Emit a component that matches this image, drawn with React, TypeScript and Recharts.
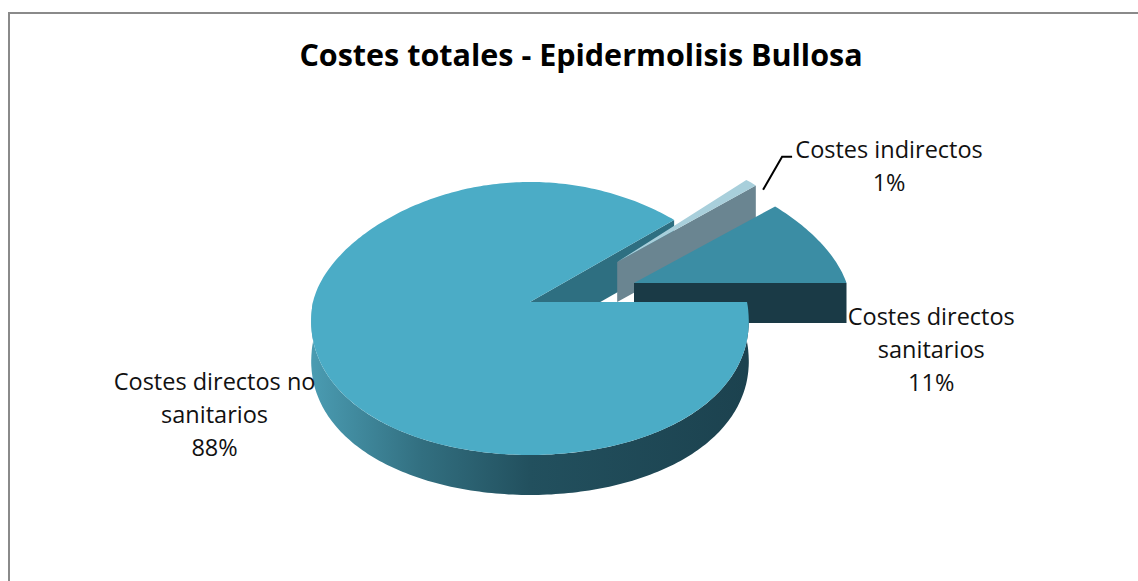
import React from 'react'
import { PieChart, Pie } from 'recharts'

// data
const categories = ['Costes directos sanitarios', 'Costes indirectos', 'Costes directos no sanitarios']
const shares = [11, 1, 88]
const explode = [0.52, 0.56, 0] // Excel point explosion, share of radius
const labelText = [['Costes directos', 'sanitarios'], ['Costes indirectos'], ['Costes directos no', 'sanitarios']]

const rows = categories.map((name, i) => ({ name, value: shares[i] }))

// 3-d look
const RY_TOP = 0.553 // back half of the disc, as share of the x radius
const RY_BOT = 0.705 // front half
const PERSP = 0.13 // x shrinks toward the back, grows toward the front
const EXPLODE_V = 0.9
const DEPTH = 40
const FONT = '"Open Sans", Lato, sans-serif'

const looks = [
  { top: '#3b8da4', cut: '#1a3a46' },
  { top: '#a8cfdb', cut: '#6a8591' },
  { top: '#4bacc6', cut: '#2e6f81' },
]

// label placement, relative to the rim point at the slice's mid angle
const labelPos = [
  { dx: 111, dy: 83 },
  { dx: 138, dy: -25 },
  { dx: -104, dy: 32 },
]

type Part = 'side' | 'top' | 'text'
const layers: { slice: number; part: Part }[][] = [
  [{ slice: 2, part: 'side' }],
  [{ slice: 1, part: 'side' }, { slice: 1, part: 'top' }],
  [{ slice: 0, part: 'side' }, { slice: 0, part: 'top' }],
  [{ slice: 2, part: 'top' }, { slice: 0, part: 'text' }, { slice: 1, part: 'text' }, { slice: 2, part: 'text' }],
]

const rad = (a: number) => (a * Math.PI) / 180

function geom(p: any) {
  const rx = p.outerRadius
  const e = explode[p.index]
  const eu = e * Math.cos(rad(p.midAngle))
  const ev = e * Math.sin(rad(p.midAngle)) * EXPLODE_V
  // disc coords (u, v) -> screen
  const proj = (u: number, v: number) => {
    const ry = v > 0 ? rx * RY_TOP : rx * RY_BOT
    return [p.cx + rx * u * (1 - PERSP * v), p.cy - ry * v]
  }
  const pt = (a: number, r = 1) => proj(eu + r * Math.cos(rad(a)), ev + r * Math.sin(rad(a)))
  const [ox, oy] = proj(eu, ev)
  const arc = (a0: number, a1: number, dy = 0) => {
    const out: number[][] = []
    const n = Math.max(2, Math.ceil(Math.abs(a1 - a0)))
    for (let k = 0; k <= n; k++) {
      const [x, y] = pt(a0 + ((a1 - a0) * k) / n)
      out.push([x, y + dy])
    }
    return out
  }
  return { rx, ox, oy, pt, arc }
}

const toPath = (pts: number[][]) => 'M' + pts.map(([x, y]) => `${x.toFixed(1)},${y.toFixed(1)}`).join('L') + 'Z'

function renderPart(p: any, part: Part) {
  const i = p.index
  const { rx, ox, oy, pt, arc } = geom(p)
  const a0 = p.startAngle
  const a1 = p.endAngle
  const look = looks[i]

  if (part === 'top') {
    return <path key="top" d={toPath([[ox, oy], ...arc(a0, a1)])} fill={look.top} />
  }

  if (part === 'side') {
    const faces: React.ReactNode[] = []
    const cutFace = (a: number, key: string) => {
      const [x, y] = pt(a)
      faces.push(
        <path key={key} d={toPath([[ox, oy], [x, y], [x, y + DEPTH], [ox, oy + DEPTH]])} fill={look.cut} />
      )
    }
    if (Math.cos(rad(a0)) > 0) cutFace(a0, 'c0')
    if (Math.cos(rad(a1)) < 0) cutFace(a1, 'c1')
    const s = Math.max(a0, 180)
    const t = Math.min(a1, 360)
    if (t > s) {
      const top = arc(s, t)
      const bottom = arc(s, t, DEPTH).reverse()
      faces.push(<path key="rim" d={toPath([...top, ...bottom])} fill={`url(#rim${i})`} />)
    }
    return (
      <g key="side">
        <defs>
          <linearGradient id={`rim${i}`} gradientUnits="userSpaceOnUse" x1={ox - rx} x2={ox + rx} y1={0} y2={0}>
            <stop offset="0" stopColor="#4a9bb1" />
            <stop offset="0.25" stopColor="#326f80" />
            <stop offset="0.5" stopColor="#22505e" />
            <stop offset="1" stopColor="#1c424f" />
          </linearGradient>
        </defs>
        {faces}
      </g>
    )
  }

  // text label
  const [rxp, ryp] = pt(p.midAngle)
  const lx = rxp + labelPos[i].dx
  const ly = ryp + labelPos[i].dy
  const lines = [...labelText[i], `${Math.round(p.percent * 100)}%`]
  return (
    <g key="text">
      {i === 1 && (
        <polyline
          points={`${rxp + 12},${ryp + 7} ${rxp + 31},${ly - 1} ${lx - 97},${ly - 1}`}
          fill="none"
          stroke="#000"
          strokeWidth={2}
        />
      )}
      <text x={lx} y={ly} textAnchor="middle" fontFamily={FONT} fontSize={23.5} fill="#111">
        {lines.map((l, k) => (
          <tspan key={k} x={lx} y={ly + k * 33}>
            {l}
          </tspan>
        ))}
      </text>
    </g>
  )
}

const makeLabel = (layer: number) => (p: any) => {
  const parts = layers[layer].filter((l) => l.slice === p.index)
  if (!parts.length) return <g />
  return <g>{parts.map((l) => renderPart(p, l.part))}</g>
}

export default function App() {
  return (
    <div style={{ position: 'fixed', left: 0, top: 0, width: 1138, height: 581, overflow: 'hidden', background: '#fff' }}>
      <div
        style={{
          position: 'absolute',
          left: 8,
          top: 12,
          width: 1200,
          height: 620,
          borderTop: '2px solid #8a8a8a',
          borderLeft: '2px solid #8a8a8a',
        }}
      />
      <svg style={{ position: 'absolute', left: 0, top: 0 }} width={1138} height={100}>
        <text x={581} y={66} textAnchor="middle" fontFamily={FONT} fontWeight={700} fontSize={30.5} fill="#000">
          Costes totales - Epidermolisis Bullosa
        </text>
      </svg>
      <div style={{ position: 'absolute', left: 0, top: 0 }}>
        <PieChart width={1138} height={581} margin={{ top: 0, right: 0, bottom: 0, left: 0 }}>
          {layers.map((_, layer) => (
            <Pie
              key={layer}
              data={rows}
              dataKey="value"
              nameKey="name"
              cx={530}
              cy={302}
              outerRadius={217}
              startAngle={0}
              endAngle={360}
              fill="none"
              stroke="none"
              labelLine={false}
              label={makeLabel(layer)}
              isAnimationActive={false}
            />
          ))}
        </PieChart>
      </div>
    </div>
  )
}
